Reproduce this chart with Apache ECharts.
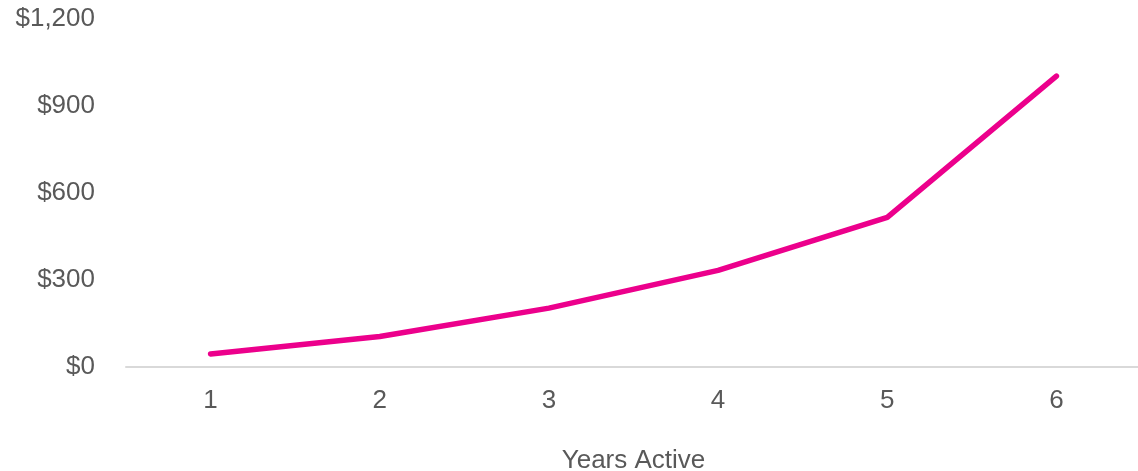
<!DOCTYPE html>
<html>
<head>
<meta charset="utf-8">
<script src="https://cdn.jsdelivr.net/npm/echarts@6/dist/echarts.min.js"></script>
<style>
  html, body { margin: 0; padding: 0; background: #fff; }
  #chart { width: 1138px; height: 471px; }
</style>
</head>
<body>
<div id="chart"></div>
<script>
let years = ['1', '2', '3', '4', '5', '6']
let earnings = [45, 105, 203, 333, 516, 1003]
let yTicks = { min: 0, max: 1200, interval: 300 }

let oChart = echarts.init(document.getElementById('chart'))
oChart.setOption({
  animation: false,
  grid: { left: 126, right: -3, top: 19, bottom: 104, containLabel: false, outerBoundsMode: 'none' },
  xAxis: {
    type: 'category',
    data: years,
    boundaryGap: true,
    name: 'Years Active',
    nameLocation: 'middle',
    nameGap: 81,
    nameTextStyle: { color: '#595959', fontSize: 26, fontFamily: 'Liberation Sans' },
    axisLine: { lineStyle: { color: '#d9d9d9', width: 2 } },
    axisTick: { show: false },
    axisLabel: { color: '#595959', fontSize: 26, fontFamily: 'Liberation Sans', margin: 21 }
  },
  yAxis: {
    type: 'value',
    min: yTicks.min,
    max: yTicks.max,
    interval: yTicks.interval,
    splitLine: { show: false },
    axisLine: { show: false },
    axisTick: { show: false },
    axisLabel: {
      color: '#595959', fontSize: 26, fontFamily: 'Liberation Sans', margin: 31,
      formatter: v => '$' + v.toLocaleString('en-US')
    }
  },
  series: [{
    type: 'line',
    data: earnings,
    symbol: 'none',
    lineStyle: { color: '#EC008C', width: 5.5, cap: 'round', join: 'round' }
  }]
})
</script>
</body>
</html>
